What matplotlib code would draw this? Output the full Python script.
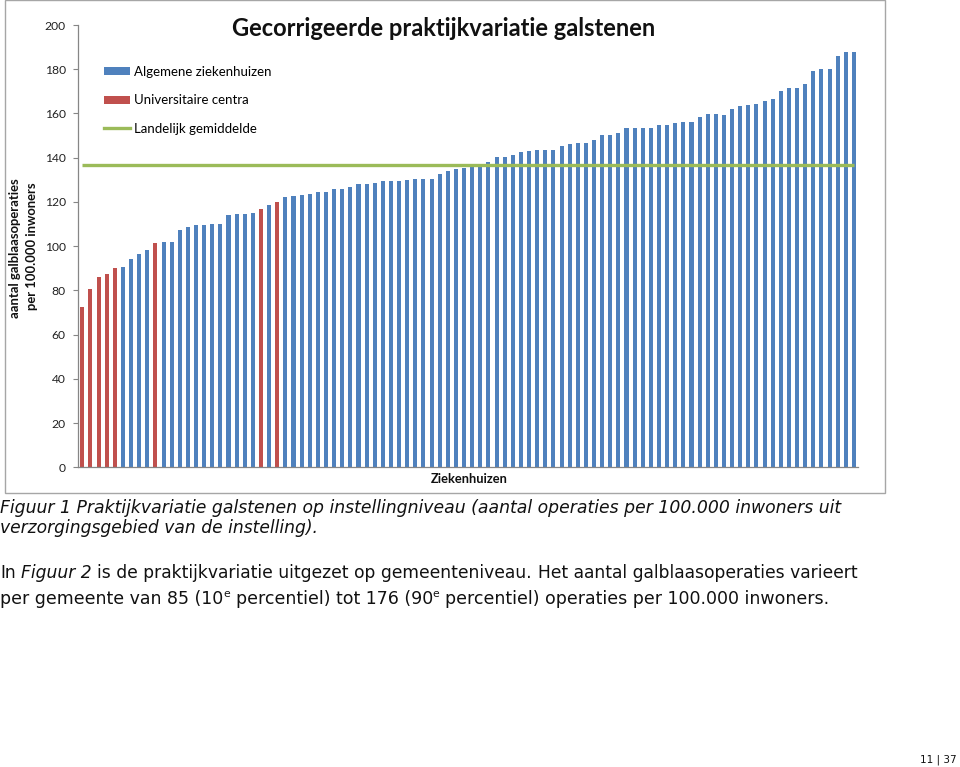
import numpy as np
import matplotlib
matplotlib.use("Agg")
import matplotlib.pyplot as plt
from matplotlib.patches import Patch, Rectangle
from matplotlib.lines import Line2D

# ==========================================
# DATA
# ==========================================
waarden = [
    72.7, 80.5, 86.2, 87.3, 90.2, 90.5, 94.1, 96.5, 98.3, 101.4,
    102.1, 102.1, 107.1, 108.6, 109.5, 109.6, 110.0, 110.1, 114.0, 114.5,
    114.5, 114.9, 116.9, 118.8, 119.9, 122.0, 122.6, 123.1, 123.7, 124.4,
    124.4, 125.9, 125.9, 126.8, 128.1, 128.1, 128.5, 129.4, 129.4, 129.4,
    129.9, 130.3, 130.3, 130.3, 132.7, 134.2, 134.8, 135.3, 135.7, 136.2,
    138.1, 140.5, 140.5, 141.0, 142.5, 142.8, 143.4, 143.4, 143.7, 145.2,
    146.3, 146.7, 146.7, 147.8, 150.3, 150.4, 151.2, 153.2, 153.2, 153.6,
    153.6, 154.7, 154.7, 155.5, 156.1, 156.1, 158.4, 159.6, 159.6, 159.5,
    162.2, 163.3, 163.8, 164.4, 165.7, 166.5, 170.1, 171.6, 171.6, 173.4,
    179.2, 179.9, 179.9, 186.1, 187.8, 187.8,
]
umc_posities = [0, 1, 2, 3, 4, 9, 22, 24]   # universitaire centra
landelijk_gemiddelde = 136.5

legenda_labels = ["Algemene ziekenhuizen", "Universitaire centra", "Landelijk gemiddelde"]
y_ticks = list(range(0, 201, 20))

BLAUW = "#4F81BD"
ROOD = "#C0504D"
GROEN = "#9BBB59"
GRIJS = "#868686"

W, H = 960, 767

# ==========================================
# FIGUUR
# ==========================================
fig = plt.figure(figsize=(W / 100, H / 100), dpi=100)
fig.patch.set_facecolor("white")

# kader om de grafiek
fig.add_artist(Rectangle((5 / W, 1 - 493 / H), 880 / W, 493 / H,
                         transform=fig.transFigure, fill=False,
                         edgecolor="#A6A6A6", lw=1.0))

ax_l, ax_r, ax_b, ax_t = 77.7, 858.4, 467.3, 25.0
ax = fig.add_axes([ax_l / W, 1 - ax_b / H, (ax_r - ax_l) / W, (ax_b - ax_t) / H])

x = np.arange(len(waarden))
kleuren = [ROOD if i in umc_posities else BLAUW for i in x]
ax.bar(x, waarden, width=0.5, color=kleuren, zorder=2)
ax.plot(x, [landelijk_gemiddelde] * len(x), color=GROEN, lw=2.4, zorder=3,
        solid_capstyle="butt")

ax.set_xlim(-0.57, 95.55)
ax.set_ylim(0, 200)
ax.set_yticks(y_ticks)
ax.set_xticks([])
for s in ["top", "right"]:
    ax.spines[s].set_visible(False)
for s in ["left", "bottom"]:
    ax.spines[s].set_color(GRIJS)
    ax.spines[s].set_linewidth(0.9)
ax.tick_params(axis="y", direction="out", length=3.6, width=0.8, color=GRIJS,
               pad=5, labelsize=8.7, labelcolor="#222222")
for lbl in ax.get_yticklabels():
    lbl.set_family("Lato")

# titel en aslabels
fig.text(443.5 / W, 1 - 28 / H, "Gecorrigeerde praktijkvariatie galstenen",
         ha="center", va="center", fontsize=17, fontweight="bold",
         family="Lato", color="#111111")
fig.text(469 / W, 1 - 479 / H, "Ziekenhuizen", ha="center", va="center",
         fontsize=9.3, fontweight="bold", family="Lato", color="#111111")
fig.text(15 / W, 1 - 248 / H, "aantal galblaasoperaties", rotation=90,
         ha="center", va="center", fontsize=9.4, fontweight="bold",
         family="Lato", color="#111111")
fig.text(32 / W, 1 - 246 / H, "per 100.000 inwoners", rotation=90,
         ha="center", va="center", fontsize=9.4, fontweight="bold",
         family="Lato", color="#111111")

# legenda
handles = [Patch(facecolor=BLAUW), Patch(facecolor=ROOD),
           Line2D([], [], color=GROEN, lw=2.4)]
leg = fig.legend(handles, legenda_labels, loc="upper left",
                 bbox_to_anchor=(104 / W, 1 - 65.8 / H), frameon=False,
                 borderpad=0, borderaxespad=0, handlelength=2.0,
                 handleheight=0.55, handletextpad=0.3, labelspacing=1.25,
                 prop={"family": "Lato", "size": 9.5})

# ==========================================
# DOCUMENTTEKST
# ==========================================
renderer = fig.canvas.get_renderer()


def breedte(t):
    return t.get_window_extent(renderer=renderer).width


def regel(y, stukken, doel=None, grootte=10.0):
    """Zet tekststukken (tekst, stijl, sup) achter elkaar op baseline y."""
    def teken(fs):
        gemaakt = []
        xp = 0.0
        spatie = fig.text(0, 0, "a a", fontsize=fs, family="DejaVu Sans")
        zonder = fig.text(0, 0, "aa", fontsize=fs, family="DejaVu Sans")
        sp = breedte(spatie) - breedte(zonder)
        spatie.remove()
        zonder.remove()
        for tekst, stijl, sup in stukken:
            if tekst == " ":
                xp += sp
                continue
            f = fs * 0.62 if sup else fs
            dy = fs * 0.55 if sup else 0
            t = fig.text(xp / W, 1 - (y - dy) / H, tekst, fontsize=f,
                         style=stijl, family="DejaVu Sans", va="baseline",
                         color="#111111")
            gemaakt.append(t)
            xp += breedte(t)
        return gemaakt, xp

    gemaakt, totaal = teken(grootte)
    if doel is not None:
        for t in gemaakt:
            t.remove()
        gemaakt, totaal = teken(grootte * doel / totaal)


regel(513, [("Figuur 1 Praktijkvariatie galstenen op instellingniveau (aantal "
             "operaties per 100.000 inwoners uit", "italic", False)], doel=838)
regel(533, [("verzorgingsgebied van de instelling).", "italic", False)],
      doel=318)
regel(578, [("In", "normal", False), (" ", None, None),
            ("Figuur 2", "italic", False), (" ", None, None),
            ("is de praktijkvariatie uitgezet op gemeenteniveau.", "normal", False),
            (" ", None, None),
            ("Het aantal galblaasoperaties varieert", "normal", False)], doel=858)
regel(604, [("per gemeente van 85 (10", "normal", False), ("e", "normal", True),
            (" ", None, None),
            ("percentiel) tot 176 (90", "normal", False), ("e", "normal", True),
            (" ", None, None),
            ("percentiel) operaties per 100.000 inwoners.", "normal", False)],
      doel=822)

fig.text(957 / W, 1 - 760 / H, "11 | 37", ha="right", va="center",
         fontsize=7.5, family="DejaVu Sans", color="#111111")

fig.savefig("out.png", dpi=100)
